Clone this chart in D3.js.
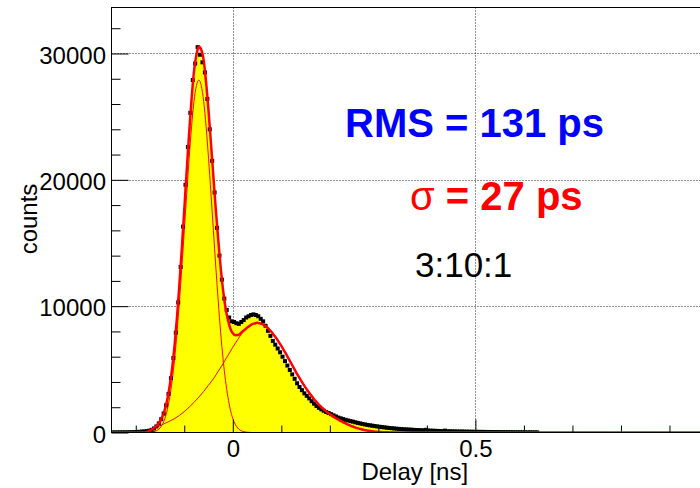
<!DOCTYPE html>
<html>
<head>
<meta charset="utf-8">
<script src="https://cdn.jsdelivr.net/npm/d3@7"></script>
<style>
body { margin: 0; background: #fff; }
svg { display: block; font-family: "Liberation Sans", Arial, Helvetica, sans-serif; }
</style>
</head>
<body>
<svg id="chart" width="700" height="488"></svg>
<script>
// histogram of the delay, 0.005 ns bins starting at -0.25 ns
const binStart = -0.25, binWidth = 0.005
const counts = [
    10, 8, 12, 10, 15, 14, 20, 22, 30, 35,
    45, 55, 70, 85, 110, 140, 210, 320, 480, 720,
    1050, 1500, 2150, 3050, 4300, 5900, 7900, 10300, 13100, 16300,
    19600, 22600, 25300, 27900, 29200, 30500, 29900, 29300, 28500, 26400,
    24000, 21500, 19000, 16200, 14000, 12100, 10600, 9700, 9100, 8800,
    8750, 8650, 8600, 8750, 8900, 9100, 9200, 9300, 9350, 9300,
    9200, 9000, 8800, 8450, 8050, 7650, 7250, 6950, 6650, 6350,
    6000, 5650, 5300, 4950, 4600, 4250, 3900, 3600, 3350, 3100,
    2900, 2700, 2480, 2280, 2100, 1950, 1830, 1720, 1620, 1540,
    1450, 1360, 1270, 1180, 1120, 1060, 1000, 950, 900, 860,
    810, 760, 720, 680, 640, 600, 570, 540, 510, 480,
    455, 430, 405, 380, 360, 340, 320, 300, 285, 270,
    255, 242, 232, 222, 210, 198, 188, 178, 170, 210,
    155, 148, 140, 132, 125, 118, 112, 150, 100, 95,
    90, 86, 82, 78, 75, 72, 68, 64, 61, 58,
    55, 52, 49, 46, 43, 41, 39, 37, 35, 33,
    31, 29, 27, 25, 23, 22, 20, 19, 18, 17,
    15, 14, 13, 12, 11, 10
]

// narrow gaussian component, 0.005 ns grid from -0.18
const gausStart = -0.18, gausStep = 0.005
const gausFit = [
    0, 8, 20, 45, 95, 190, 360, 650, 1100, 1800,
    2800, 4100, 5800, 7900, 10400, 13100, 16000, 18900, 21700, 24200,
    26200, 27450, 27900, 27450, 26200, 24200, 21700, 18900, 16000, 13100,
    10400, 7900, 5800, 4100, 2800, 1800, 1100, 650, 360, 190,
    95, 45, 20, 8, 0
]

// broad component, 0.01 ns grid from -0.18
const broadStart = -0.18, broadStep = 0.01
const broadFit = [
    0, 150, 330, 530, 720, 900, 1100, 1350, 1650, 2000,
    2380, 2800, 3250, 3750, 4250, 4850, 5450, 6100, 6750, 7350,
    7900, 8300, 8580, 8680, 8600, 8350, 7950, 7450, 6850, 6200,
    5500, 4800, 4150, 3550, 3000, 2520, 2100, 1750, 1450, 1190,
    960, 760, 580, 430, 310, 210, 135, 80, 45, 22,
    10, 4, 0
]

// total fit, 0.005 ns grid from -0.25
const totalStart = -0.25, totalStep = 0.005
const totalFit = [
    0, 0, 0, 0, 0, 0, 0, 0, 0, 0, 0, 0, 0, 0, 0,
    83, 170, 285, 425, 620, 890, 1275, 1820, 2610, 3700,
    5100, 6900, 9125, 11750, 14600, 17650, 20725, 23700, 26390, 28580,
    29900, 30550, 30300, 29450, 27700, 25450, 22900, 20250, 17650, 15250,
    13050, 11250, 9875, 8900, 8225, 7850, 7700, 7710, 7815, 7995,
    8145, 8320, 8448, 8580, 8630, 8680, 8640, 8600, 8475, 8350,
    8150, 7950, 7700, 7450, 7150, 6850, 6525, 6200, 5850, 5500,
    5150, 4800, 4475, 4150, 3850, 3550, 3275, 3000, 2760, 2520,
    2310, 2100, 1925, 1750, 1600, 1450, 1320, 1190, 1075, 960,
    860, 760, 670, 580, 505, 430, 370, 310, 260, 210,
    172, 135, 108, 80, 62, 45, 33, 22, 16, 10,
    7, 4, 2, 0, 0, 0
]

const xMin = -0.25, xMax = 1.0, yMax = 33640
const xMajor = [0, 0.5, 1], xTickLabels = ["0", "0.5", ""]
const yMajor = [0, 10000, 20000, 30000], yTickLabels = ["0", "10000", "20000", "30000"]

const L = 111.5, R = 718, T = 7.5, B = 432.5

const svg = d3.select("#chart")
const x = d3.scaleLinear().domain([xMin, xMax]).range([L, R])
const y = d3.scaleLinear().domain([0, yMax]).range([B, T])

svg.append("defs").append("clipPath").attr("id", "plot")
    .append("rect").attr("x", L).attr("y", T).attr("width", R - L).attr("height", B - T)

// dotted grid
svg.append("g").selectAll("line").data(xMajor.filter(d => d > xMin)).join("line")
    .attr("x1", d => Math.round(x(d)) + 0.5).attr("x2", d => Math.round(x(d)) + 0.5)
    .attr("y1", T).attr("y2", B)
    .style("stroke", "#222").style("stroke-dasharray", "1,2")
svg.append("g").selectAll("line").data(yMajor.filter(d => d > 0)).join("line")
    .attr("x1", L).attr("x2", R)
    .attr("y1", d => Math.round(y(d)) + 0.5).attr("y2", d => Math.round(y(d)) + 0.5)
    .style("stroke", "#222").style("stroke-dasharray", "1,2")

const plot = svg.append("g").attr("clip-path", "url(#plot)")

let bins = counts.map((v, i) => ({x: binStart + binWidth * (i + 0.5), v: v}))

plot.append("path")
    .datum(bins)
    .attr("d", d3.area().x(d => x(d.x)).y0(y(0)).y1(d => y(d.v)).curve(d3.curveStep))
    .style("fill", "#ffff00")
    .style("stroke", "none")

function series(start, step, vals) {
    return vals.map((v, i) => [start + step * i, v])
}
let line = d3.line().x(d => x(d[0])).y(d => y(d[1])).curve(d3.curveMonotoneX)

let tot = series(totalStart, totalStep, totalFit)
tot.push([xMax, 0])

plot.append("path").datum(series(gausStart, gausStep, gausFit))
    .attr("d", line).style("fill", "none").style("stroke", "#ff0000").style("stroke-width", 1)
plot.append("path").datum(series(broadStart, broadStep, broadFit))
    .attr("d", line).style("fill", "none").style("stroke", "#ff0000").style("stroke-width", 1)

plot.selectAll("rect.pt").data(bins.filter(d => d.v > 0)).join("rect")
    .attr("class", "pt")
    .attr("x", d => x(d.x) - 2).attr("y", d => y(d.v) - 2)
    .attr("width", 4).attr("height", 4)
    .style("fill", "#000")

plot.append("path").datum(tot)
    .attr("d", line).style("fill", "none").style("stroke", "#ff0000").style("stroke-width", 2.5)

// frame
svg.append("rect")
    .attr("x", L).attr("y", T).attr("width", R - L).attr("height", B - T)
    .style("fill", "none").style("stroke", "#000").style("stroke-width", 1)

// axes, ticks pointing inside
function styleAxis(g) {
    g.select(".domain").remove()
    g.selectAll("line").style("stroke", "#000")
    g.selectAll("text").style("font-family", "'Liberation Sans', Arial, sans-serif")
        .style("font-size", "24px").style("fill", "#000")
}
svg.append("g").attr("transform", `translate(0,${B})`)
    .call(d3.axisBottom(x).tickValues(d3.range(-0.2, 0.95, 0.1).filter(d => Math.abs(d % 0.5) > 0.01)).tickSize(-7).tickFormat(""))
    .call(styleAxis)
svg.append("g").attr("transform", `translate(0,${B})`)
    .call(d3.axisBottom(x).tickValues(xMajor).tickSize(-13).tickPadding(7).tickFormat((d, i) => xTickLabels[i]))
    .call(styleAxis)
svg.append("g").attr("transform", `translate(${L},0)`)
    .call(d3.axisLeft(y).tickValues(d3.range(2000, 33000, 2000).filter(d => d % 10000)).tickSize(-9).tickFormat(""))
    .call(styleAxis)
svg.append("g").attr("transform", `translate(${L},0)`)
    .call(d3.axisLeft(y).tickValues(yMajor).tickSize(-17).tickPadding(5.5).tickFormat((d, i) => yTickLabels[i]))
    .call(styleAxis)
    .call(g => g.selectAll("text").attr("dy", "0.4em"))

// titles
svg.append("text")
    .attr("x", (L + R) / 2).attr("y", 479.5)
    .attr("text-anchor", "middle")
    .style("font-size", "24px")
    .text("Delay [ns]")
svg.append("text")
    .attr("transform", "translate(37,219) rotate(-90)")
    .attr("text-anchor", "middle")
    .style("font-size", "24px")
    .text("counts")

// annotations
svg.append("text")
    .attr("x", 345).attr("y", 137)
    .style("font-size", "40px").style("font-weight", "bold").style("fill", "#0000ff")
    .text("RMS = 131 ps")
let sig = svg.append("text")
    .attr("x", 410).attr("y", 210)
    .style("font-size", "40px").style("fill", "#ff0000")
sig.append("tspan").text("σ")
sig.append("tspan").style("font-weight", "bold").text(" = 27 ps")
svg.append("text")
    .attr("x", 415).attr("y", 277)
    .style("font-size", "35px").style("fill", "#000")
    .text("3:10:1")
</script>
</body>
</html>
